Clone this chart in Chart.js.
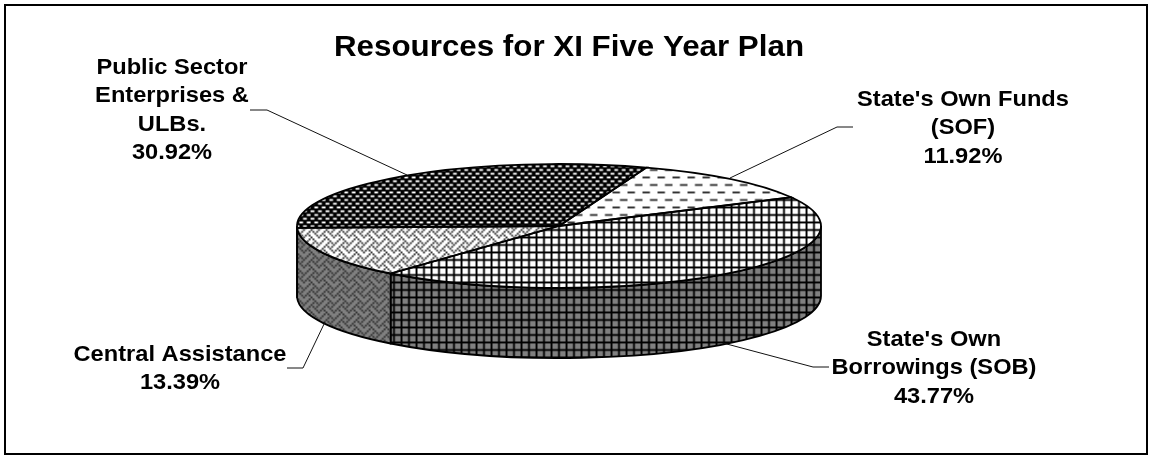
<!DOCTYPE html>
<html>
<head>
<meta charset="utf-8">
<title>Resources for XI Five Year Plan</title>
<script src="https://cdn.jsdelivr.net/npm/chart.js@4"></script>
<style>
  html, body { margin: 0; padding: 0; background: #fff; overflow: hidden; }
  canvas { display: block; }
</style>
</head>
<body>
<canvas id="planChart" width="1151" height="456"></canvas>
<script>
  // data
  var categories = ["State's Own Funds (SOF)", "State's Own Borrowings (SOB)", "Central Assistance", "Public Sector Enterprises & ULBs."];
  var shares = [11.92, 43.77, 13.39, 30.92];
  var labelLines = [
    ["State's Own Funds", "(SOF)"],
    ["State's Own", "Borrowings (SOB)"],
    ["Central Assistance"],
    ["Public Sector", "Enterprises &", "ULBs."]
  ];
  var chartTitle = "Resources for XI Five Year Plan";

  // drawing layout, separate from the data
  var pie = { x: 559, y: 226, rx: 262, ry: 62, depth: 70, rotation: 19.5 };
  var titleStretch = 1.08;
  var textStretch = 1.1;
  var labelFont = "bold 21.5px 'Liberation Sans', Arial, sans-serif";
  var labelSpots = [
    { x: 963, y: 106 }, { x: 934, y: 346 }, { x: 180, y: 361 }, { x: 172, y: 74 }
  ];
  var lineGap = 28.3;
  var leaders = [
    [[853, 127], [837, 127], [730, 178]],
    [[829, 367], [813, 367], [723, 343]],
    [[287, 368], [303, 368], [325, 322]],
    [[250, 110], [267, 110], [407, 175]]
  ];

  // 8x8 bitmaps, same idea as the old office fill patterns
  var bitsDashes = [0xf0, 0x00, 0x00, 0x00, 0x0f, 0x00, 0x00, 0x00];
  var bitsGrid   = [0xff, 0x11, 0x11, 0x11, 0xff, 0x11, 0x11, 0x11];
  var bitsWeave  = [0x11, 0x2a, 0x44, 0xa2, 0x11, 0x28, 0x44, 0x8a];
  var bitsBricks = [0x99, 0xff, 0x66, 0xff, 0x99, 0xff, 0x66, 0xff];

  function makePattern(bits, fg, bg) {
    var c = document.createElement('canvas');
    c.width = 8;
    c.height = 8;
    var g = c.getContext('2d');
    g.fillStyle = bg;
    g.fillRect(0, 0, 8, 8);
    g.fillStyle = fg;
    for (var row = 0; row < 8; row++) {
      for (var col = 0; col < 8; col++) {
        if (bits[row] & (0x80 >> col)) g.fillRect(col, row, 1, 1);
      }
    }
    return g.createPattern(c, 'repeat');
  }

  var topFills = [
    makePattern(bitsDashes, '#333', '#fff'),
    makePattern(bitsGrid, '#000', '#fff'),
    makePattern(bitsWeave, '#333', '#fff'),
    makePattern(bitsBricks, '#000', '#fff')
  ];
  var wallFills = [
    makePattern(bitsDashes, '#222', '#808080'),
    makePattern(bitsGrid, '#000', '#808080'),
    makePattern(bitsWeave, '#333', '#808080'),
    makePattern(bitsBricks, '#000', '#808080')
  ];
  var patternBase = new DOMMatrix().translate(4.9, 4).scale(1.875, 1.875);
  wallFills.forEach(function (p) { p.setTransform(patternBase); });

  function sectorPath(ctx, arc) {
    ctx.beginPath();
    ctx.moveTo(pie.x, pie.y);
    ctx.ellipse(pie.x, pie.y, pie.rx, pie.ry, 0, arc.startAngle, arc.endAngle);
    ctx.closePath();
  }

  var stretchTitle = {
    id: 'stretchTitle',
    beforeDraw: function (chart) {
      var ctx = chart.ctx;
      var mid = chart.titleBlock.left + chart.titleBlock.width / 2;
      ctx.save();
      ctx.translate(mid, 0);
      ctx.scale(titleStretch, 1);
      ctx.translate(-mid, 0);
    },
    beforeDatasetsDraw: function (chart) {
      chart.ctx.restore();
    }
  };

  var tiltedPie = {
    id: 'tiltedPie',
    beforeDatasetDraw: function (chart, args) {
      var ctx = chart.ctx;
      var arcs = args.meta.data;
      var k = pie.ry / pie.rx;

      // side wall, only the part of each slice on the front half
      arcs.forEach(function (arc, i) {
        var a = Math.max(arc.startAngle, 0);
        var b = Math.min(arc.endAngle, Math.PI);
        if (b <= a) return;
        ctx.beginPath();
        ctx.ellipse(pie.x, pie.y, pie.rx, pie.ry, 0, a, b);
        ctx.ellipse(pie.x, pie.y + pie.depth, pie.rx, pie.ry, 0, b, a, true);
        ctx.closePath();
        ctx.fillStyle = wallFills[i];
        ctx.fill();
        ctx.lineWidth = 1.8;
        ctx.strokeStyle = '#000';
        ctx.stroke();
      });

      // squash the library's round pie into the ellipse
      var view = new DOMMatrix().translate(pie.x, pie.y).scale(1, k).translate(-arcs[0].x, -arcs[0].y);
      var fix = view.inverse().multiply(patternBase);
      topFills.forEach(function (p) { p.setTransform(fix); });
      ctx.save();
      ctx.setTransform(view);
    },
    afterDatasetDraw: function (chart, args) {
      var ctx = chart.ctx;
      ctx.restore();
      ctx.lineWidth = 1.8;
      ctx.strokeStyle = '#000';
      args.meta.data.forEach(function (arc) {
        sectorPath(ctx, arc);
        ctx.stroke();
      });
    }
  };

  var labelsAndFrame = {
    id: 'labelsAndFrame',
    afterDraw: function (chart) {
      var ctx = chart.ctx;
      ctx.save();
      ctx.lineWidth = 2;
      ctx.strokeStyle = '#000';
      ctx.strokeRect(5, 5, 1142, 449);

      ctx.lineWidth = 1;
      ctx.strokeStyle = '#111';
      leaders.forEach(function (pts) {
        ctx.beginPath();
        pts.forEach(function (p, i) {
          if (i == 0) ctx.moveTo(p[0], p[1]);
          else ctx.lineTo(p[0], p[1]);
        });
        ctx.stroke();
      });

      ctx.fillStyle = '#000';
      ctx.font = labelFont;
      ctx.textAlign = 'center';
      ctx.textBaseline = 'alphabetic';
      labelLines.forEach(function (lines, i) {
        var rows = lines.concat(shares[i].toFixed(2) + '%');
        rows.forEach(function (text, r) {
          ctx.save();
          ctx.translate(labelSpots[i].x, labelSpots[i].y + r * lineGap);
          ctx.scale(textStretch, 1);
          ctx.fillText(text, 0, 0);
          ctx.restore();
        });
      });
      ctx.restore();
    }
  };

  var chart = new Chart(document.getElementById('planChart').getContext('2d'), {
    type: 'pie',
    data: {
      labels: categories,
      datasets: [{
        data: shares,
        backgroundColor: topFills,
        hoverBackgroundColor: topFills,
        borderWidth: 0
      }]
    },
    options: {
      responsive: false,
      animation: false,
      rotation: pie.rotation,
      radius: pie.rx,
      layout: { padding: { right: 13 } },
      events: [],
      plugins: {
        legend: { display: false },
        tooltip: { enabled: false },
        title: {
          display: true,
          text: chartTitle,
          color: '#000',
          font: { family: "'Liberation Sans', Arial, sans-serif", size: 29, weight: 'bold' },
          padding: { top: 31, bottom: 10 }
        }
      }
    },
    plugins: [stretchTitle, tiltedPie, labelsAndFrame]
  });
</script>
</body>
</html>
